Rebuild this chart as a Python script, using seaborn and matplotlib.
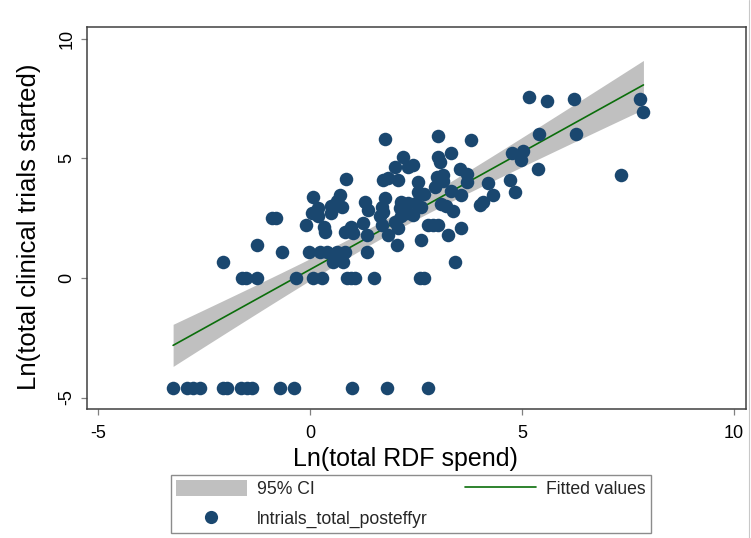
import numpy as np
import pandas as pd
import matplotlib
matplotlib.use("Agg")
import matplotlib.pyplot as plt
import seaborn as sns
from matplotlib.patches import Patch
from matplotlib.lines import Line2D

# ---------------- data ----------------
x_ticks = [-5, 0, 5, 10]
y_ticks = [-5, 0, 5, 10]
x_label = "Ln(total RDF spend)"
y_label = "Ln(total clinical trials started)"
legend_labels = ["95% CI", "lntrials_total_posteffyr", "Fitted values"]

# points at the floor value (ln 0.01)
floor_x = [-3.23, -2.90, -2.76, -2.60, -2.05, -1.96, -1.63, -1.49, -1.37,
           -0.71, -0.38, 0.99, 1.82, 2.78]
floor_y = [-4.61] * 14

# points with one trial (ln 1 = 0)
one_x = [-1.60, -1.51, -1.25, -0.33, 0.07, 0.28, 0.87, 0.97, 1.06, 1.51, 2.60, 2.69]
one_y = [0.0] * 12

# low counts
low_x = [-2.05, 0.54, 0.78, 3.42,
         -0.67, -0.02, 0.24, 0.40, 0.64, 0.83, 1.35,
         -1.26, 2.06, 2.62, 1.83, 3.25, 3.56, 2.78, 2.90, 3.02, -0.90, -0.79]
low_y = [0.69, 0.69, 0.69, 0.69,
         1.10, 1.10, 1.10, 1.10, 1.10, 1.10, 1.10,
         1.39, 1.39, 1.61, 1.79, 1.79, 2.08, 2.20, 2.20, 2.20, 2.50, 2.50]

# main cloud
cloud_x = [1.77, 2.20, 2.01, 2.32, 2.42, 1.73, 1.85, 2.08, 0.85, 0.08,
           0.71, 0.64, 0.76, 0.50, 0.50, 0.04, 0.18, 0.20, -0.09, 0.33,
           0.35, 0.83, 0.98, 1.02, 1.24, 1.34, 1.30, 1.36, 1.77, 1.69,
           1.73, 1.65, 2.16, 2.12, 2.31, 2.15, 2.29, 1.69, 2.01, 2.08,
           2.43, 2.50, 2.62, 3.09, 3.21, 3.38, 4.01, 4.09, 3.03, 3.79,
           3.03, 3.07, 3.34, 3.55, 3.71, 3.71, 4.21, 4.72, 4.84, 4.33,
           2.56, 2.99, 3.15, 3.15, 2.95, 3.33, 3.56, 2.56, 2.68]
cloud_y = [5.80, 5.08, 4.66, 4.64, 4.73, 4.10, 4.17, 4.10, 4.14, 3.38,
           3.49, 3.22, 2.99, 3.01, 2.72, 2.71, 2.93, 2.59, 2.22, 2.13,
           1.94, 1.94, 2.15, 1.87, 2.29, 1.80, 3.19, 2.85, 3.33, 2.98,
           2.77, 2.59, 3.19, 2.92, 3.14, 2.59, 2.72, 2.22, 2.36, 2.08,
           2.64, 3.14, 2.97, 3.10, 3.01, 2.80, 3.05, 3.18, 5.95, 5.77,
           5.08, 4.87, 5.22, 4.56, 4.33, 4.03, 3.96, 4.10, 3.61, 3.47,
           4.00, 4.21, 4.31, 4.07, 3.82, 3.64, 3.49, 3.61, 3.51]

# high spenders
high_x = [5.17, 5.59, 6.23, 7.79, 7.87, 5.41, 6.29, 4.76, 5.03, 4.98, 5.39, 7.34]
high_y = [7.57, 7.41, 7.49, 7.48, 6.93, 6.01, 6.03, 5.24, 5.31, 4.92, 4.55, 4.31]

# ---------------- styling ----------------
NAVY = "#1a476f"
GREEN = "#0b6e0b"
CI_GRAY = "#c0c0c0"
FRAME = "#404040"

sns.set_theme(style="white")
plt.rcParams['font.family'] = ['Liberation Sans', 'DejaVu Sans']

df = pd.DataFrame({
    "ln_rdf": floor_x + one_x + low_x + cloud_x + high_x,
    "ln_trials": floor_y + one_y + low_y + cloud_y + high_y,
})

# linear fit with 95% CI of the mean prediction
X = df["ln_rdf"].to_numpy()
Y = df["ln_trials"].to_numpy()
n = len(X)
slope, intercept = np.polyfit(X, Y, 1)
xg = np.linspace(X.min(), X.max(), 200)
yhat = intercept + slope * xg
resid = Y - (intercept + slope * X)
s = np.sqrt((resid ** 2).sum() / (n - 2))
se = s * np.sqrt(1.0 / n + (xg - X.mean()) ** 2 / ((X - X.mean()) ** 2).sum())
tcrit = 1.98
fit_df = pd.DataFrame({"x": xg, "y": yhat})

fig = plt.figure(figsize=(7.51, 5.38), dpi=100)
fig.patch.set_facecolor("white")
ax = fig.add_axes([0.1158, 0.2398, 0.8775, 0.7100])

ax.fill_between(xg, yhat - tcrit * se, yhat + tcrit * se, color=CI_GRAY,
                linewidth=0, zorder=1)
sns.lineplot(data=fit_df, x="x", y="y", ax=ax, color=GREEN, linewidth=1.2,
             zorder=2)
sns.scatterplot(data=df, x="ln_rdf", y="ln_trials", ax=ax, color=NAVY, s=95,
                linewidth=0, zorder=3, legend=False)

ax.set_xlim(-5.263, 10.29)
ax.set_ylim(-5.48, 10.50)
ax.set_xticks(x_ticks)
ax.set_yticks(y_ticks)
ax.set_xticklabels([str(v) for v in x_ticks])
ax.set_yticklabels([str(v) for v in y_ticks])

for sp in ax.spines.values():
    sp.set_visible(True)
    sp.set_color(FRAME)
    sp.set_linewidth(1.1)

ax.tick_params(axis="both", direction="out", length=4.5, width=0.9,
               color="#808080", labelsize=13, labelcolor="black",
               bottom=True, left=True)
ax.tick_params(axis="x", pad=7)
ax.tick_params(axis="y", pad=4, labelrotation=90)
for lab in ax.get_yticklabels():
    lab.set_va("center")

ax.set_xlabel(x_label, fontsize=18, color="black")
ax.set_ylabel(y_label, fontsize=18.5, color="black")
ax.xaxis.set_label_coords(0.4826, -0.0995)
ax.yaxis.set_label_coords(-0.07, 0.476)
ax.grid(False)

# thin outer border line at the right edge of the graph region
fig.add_artist(Line2D([0.9975, 0.9975], [0.0, 1.0], transform=fig.transFigure,
                      color="#c8c8c8", linewidth=0.8))

handles = [
    Patch(facecolor=CI_GRAY, edgecolor="none"),
    Line2D([], [], marker="o", linestyle="", color=NAVY, markersize=9.5,
           markeredgewidth=0),
    Line2D([], [], color=GREEN, linewidth=1.2),
]
leg = fig.legend(handles, legend_labels, ncol=2, loc="center",
                 bbox_to_anchor=(0.5473, 0.0630), bbox_transform=fig.transFigure,
                 fontsize=12.7, frameon=True, fancybox=False, shadow=False,
                 handlelength=4.0, handleheight=1.0, handletextpad=0.6,
                 columnspacing=2.1, labelspacing=0.68, borderpad=0.3)
leg.get_frame().set_edgecolor("#707070")
leg.get_frame().set_linewidth(1.0)

fig.savefig("out.png", dpi=100, facecolor="white")
